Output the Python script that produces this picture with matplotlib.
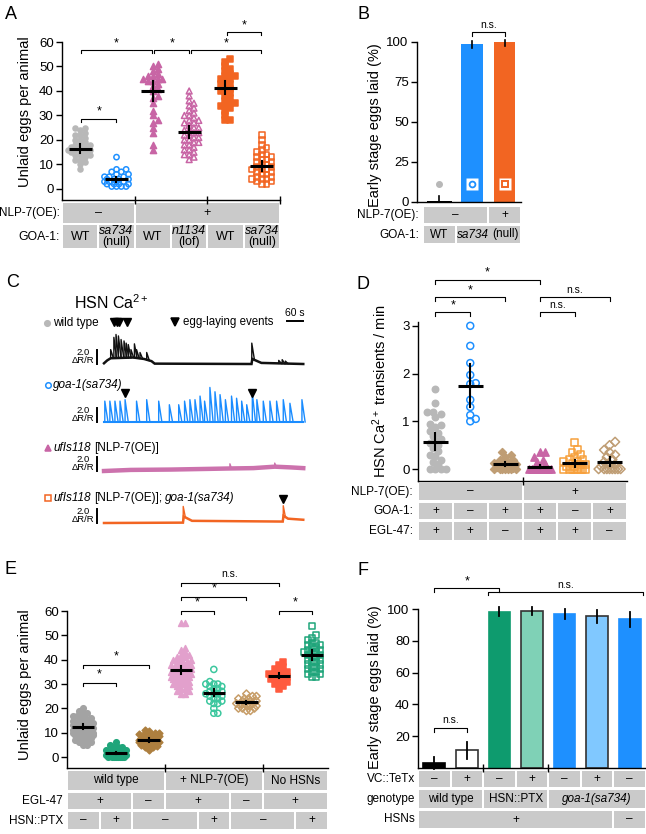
import matplotlib
matplotlib.use('Agg')
import matplotlib.pyplot as plt
import numpy as np
from matplotlib.patches import Rectangle
from matplotlib.lines import Line2D

# ---------------- A: unlaid eggs per animal ----------------
A_wt = [25, 25, 24, 23, 22, 22, 21, 20, 20, 19, 18, 18, 18, 17, 17, 16, 16, 16, 16,
        15, 15, 14, 14, 14, 13, 12, 12, 11, 10, 8]
A_goa = [13, 8, 8, 7, 7, 6, 6, 5, 5, 5, 4, 4, 4, 4, 3, 3, 3, 3, 2, 2, 2, 2, 1, 1, 1, 1]
A_nlp = [51, 50, 49, 48, 47, 46, 46, 45, 45, 45, 44, 44, 43, 42, 41, 40, 38, 37, 35,
         32, 30, 28, 27, 25, 23, 18, 16]
A_nlp_lof = [40, 38, 36, 35, 34, 33, 32, 31, 30, 30, 29, 28, 28, 27, 27, 26, 25, 25, 24,
             24, 23, 23, 22, 22, 21, 21, 20, 20, 19, 19, 18, 18, 17, 16, 16, 15, 14, 14, 13, 12]
A_nlp_wt = [53, 52, 50, 49, 48, 47, 46, 46, 45, 45, 44, 43, 43, 42, 41, 40, 40, 39, 38,
            37, 36, 35, 35, 34, 34, 33, 32, 30, 28, 28]
A_nlp_goa = [22, 20, 18, 17, 16, 15, 14, 14, 13, 13, 12, 12, 11, 11, 10, 10, 9, 9, 8, 8,
             8, 7, 7, 6, 6, 5, 5, 4, 4, 4, 3, 3, 2, 2]
A_mean = [16.5, 4.0, 39.8, 23.3, 41.4, 9.4]
A_lo = [14.8, 3.0, 36.0, 20.8, 38.8, 7.3]
A_hi = [18.2, 5.0, 44.0, 25.8, 44.0, 11.6]
A_nlp7 = ['–', '+']
A_goa1 = ['WT', '_sa734_\n(null)', 'WT', '_n1134_\n(lof)', 'WT', '_sa734_\n(null)']

# ---------------- B: early stage eggs laid (%) ----------------
B_values = [0.6, 98.6, 99.8]
B_lo = [0.0, 96.3, 97.5]
B_hi = [3.5, 100.6, 101.0]
B_nlp7 = ['–', '+']
B_goa1 = ['WT', '_sa734_ (null)']

# ---------------- C: HSN Ca2+ traces (time in s, dR/R) ----------------
C_wt_base_t = [0, 12, 25, 110, 150, 178, 190, 553, 556, 590, 747]
C_wt_base_v = [0.1, 0.5, 0.8, 0.9, 0.7, 0.4, 0.05, 0.0, 0.7, 0.15, 0.0]
C_wt_spike_t = [25, 37, 45, 54, 64, 75, 83, 91, 101, 114, 122, 135, 160, 554, 655, 668, 680]
C_wt_spike_h = [2.0, 3.7, 4.1, 3.9, 3.4, 3.2, 2.9, 2.7, 2.0, 2.8, 2.0, 1.6, 1.6, 2.9, 0.5, 0.6, 0.4]
C_wt_eggs = [39, 47, 57, 87]

C_goa_base_t = [0, 747]
C_goa_base_v = [0.0, 0.0]
C_goa_spike_t = [3, 22, 41, 60, 79, 122, 160, 205, 245, 280, 302, 322, 341, 360, 377, 397,
                 416, 435, 455, 478, 497, 516, 535, 556, 573, 597, 622, 647, 672, 697, 742]
C_goa_spike_h = [2.9, 2.9, 2.9, 2.9, 3.1, 2.9, 3.1, 2.9, 2.4, 2.4, 2.9, 3.1, 3.1, 3.6, 2.9, 4.8,
                 4.2, 3.8, 3.1, 3.6, 3.3, 2.9, 2.4, 4.0, 3.1, 2.9, 2.9, 2.9, 3.1, 2.6, 3.1]
C_goa_eggs = [79, 556]

C_nlp_base_t = [0, 100, 250, 400, 470, 560, 640, 700, 747]
C_nlp_base_v = [0.0, 0.15, 0.2, 0.3, 0.35, 0.4, 0.6, 0.5, 0.4]
C_nlp_spike_t = [472, 640]
C_nlp_spike_h = [1.0, 1.1]

C_nlpgoa_base_t = [0, 296, 299, 330, 670, 673, 690, 747]
C_nlpgoa_base_v = [0.0, 0.05, 0.9, 0.3, 0.2, 1.0, 0.6, 0.45]
C_nlpgoa_spike_t = [297, 672]
C_nlpgoa_spike_h = [2.3, 2.4]
C_nlpgoa_eggs = [672]

# ---------------- D: HSN Ca2+ transients / min ----------------
D_wt = [1.68, 1.38, 1.2, 1.2, 1.15, 1.1, 0.95, 0.92, 0.88, 0.8, 0.75, 0.7, 0.62, 0.6,
        0.55, 0.5, 0.45, 0.38, 0.3, 0.28, 0.2, 0.15, 0.1, 0.0, 0.0, 0.0, 0.0]
D_goa = [3.0, 2.58, 2.22, 1.97, 1.8, 1.78, 1.45, 1.3, 1.13, 1.05, 1.0]
D_egl = [0.35, 0.3, 0.25, 0.2, 0.18, 0.15, 0.12, 0.1, 0.1, 0.08, 0.05, 0.05, 0.03,
         0.0, 0.0, 0.0, 0.0, 0.0, 0.0, 0.0]
D_nlp = [0.35, 0.35, 0.25, 0.2, 0.15, 0.1, 0.05, 0.0, 0.0, 0.0, 0.0, 0.0, 0.0, 0.0,
         0.0, 0.0, 0.0]
D_nlp_goa = [0.55, 0.4, 0.35, 0.3, 0.25, 0.2, 0.2, 0.15, 0.15, 0.12, 0.1, 0.1, 0.05,
             0.05, 0.0, 0.0, 0.0, 0.0, 0.0, 0.0, 0.0, 0.0]
D_nlp_egl = [0.57, 0.5, 0.4, 0.35, 0.3, 0.25, 0.2, 0.15, 0.1, 0.1, 0.05, 0.0, 0.0,
             0.0, 0.0, 0.0, 0.0, 0.0, 0.0]
D_mean = [0.57, 1.75, 0.1, 0.05, 0.12, 0.15]
D_lo = [0.4, 1.3, 0.06, 0.02, 0.05, 0.07]
D_hi = [0.75, 2.2, 0.14, 0.09, 0.2, 0.25]
D_nlp7 = ['–', '+']
D_goa1 = ['+', '–', '+', '+', '–', '+']
D_egl47 = ['+', '+', '–', '+', '+', '–']

# ---------------- E: unlaid eggs per animal ----------------
E_wt = [20, 19, 18, 18, 17, 17, 16, 16, 16, 15, 15, 15, 15, 14, 14, 14, 14, 14, 13, 13,
        13, 13, 13, 12, 12, 12, 12, 12, 12, 11, 11, 11, 11, 11, 10, 10, 10, 10, 10, 9, 9,
        9, 9, 8, 8, 8, 7, 7, 7, 6, 6, 5, 5]
E_ptx = [6, 5, 4, 4, 4, 3, 3, 3, 3, 3, 2, 2, 2, 2, 2, 2, 2, 2, 2, 1, 1, 1, 1, 1, 1, 1,
         1, 1, 1, 1, 0, 0, 0, 0, 0, 0, 0, 0]
E_egl = [11, 10.5, 10, 10, 9.5, 9, 9, 9, 8.5, 8, 8, 8, 7.5, 7, 7, 7, 7, 6.5, 6, 6, 6, 6,
         5.5, 5, 5, 5, 4.5, 4, 4, 3]
E_nlp = [55, 55, 45, 44, 43, 42, 42, 41, 41, 40, 40, 40, 39, 39, 39, 38, 38, 38, 38, 37,
         37, 37, 37, 36, 36, 36, 36, 36, 35, 35, 35, 35, 35, 34, 34, 34, 34, 33, 33, 33,
         33, 32, 32, 32, 31, 31, 31, 30, 30, 30, 29, 29, 28, 28, 27, 27, 26, 26]
E_nlp_ptx = [36, 31, 30, 30, 30, 29, 29, 28, 28, 27, 27, 26, 26, 26, 25, 25, 24, 24, 23,
             23, 22, 22, 20, 18, 18]
E_nlp_egl = [26, 25, 25, 24, 24, 24, 23, 23, 23, 23, 22, 22, 22, 22, 22, 21, 21, 21, 21,
             20, 20, 20, 19, 19]
E_nohsn = [39, 38, 37, 36, 36, 35, 35, 34, 34, 34, 33, 33, 33, 33, 32, 32, 32, 31, 31,
           30, 30, 29, 28]
E_nohsn_ptx = [54, 50, 49, 48, 47, 47, 46, 46, 45, 45, 44, 44, 43, 43, 43, 42, 42, 41, 41,
               40, 40, 39, 39, 38, 38, 37, 37, 36, 36, 35, 35, 34, 34, 33, 33]
E_mean = [12.5, 1.7, 7.0, 35.7, 26.4, 22.5, 33.4, 42.0]
E_lo = [11.5, 1.2, 6.0, 34.2, 24.9, 21.8, 32.4, 40.0]
E_hi = [13.5, 2.2, 8.0, 37.2, 27.9, 23.2, 34.4, 44.0]
E_strain = ['wild type', '+ NLP-7(OE)', 'No HSNs']
E_egl47 = ['+', '–', '+', '–', '+']
E_ptxrow = ['–', '+', '–', '+', '–', '+']

# ---------------- F: early stage eggs laid (%) ----------------
F_values = [3.0, 11.2, 98.4, 98.8, 96.8, 95.3, 93.6]
F_err = [3.8, 5.3, 2.7, 2.7, 3.4, 4.2, 4.8]
F_tetx = ['–', '+', '–', '+', '–', '+', '–']
F_genotype = ['wild type', 'HSN::PTX', '_goa-1(sa734)_']
F_hsns = ['+', '–']

# ---------------- layout / style ----------------
W, H = 646, 834
plt.rcParams['font.family'] = ['Liberation Sans', 'DejaVu Sans']
plt.rcParams['mathtext.fontset'] = 'custom'
plt.rcParams['mathtext.rm'] = 'Liberation Sans'
plt.rcParams['mathtext.it'] = 'Liberation Sans:italic'
plt.rcParams['axes.linewidth'] = 1.0
fig = plt.figure(figsize=(W / 100, H / 100), dpi=100)
R = fig.canvas.get_renderer()

CELL = '#cacaca'
GRAY = '#b8b8b8'
BLUE = '#1e90ff'
PINK = '#c865a5'
ORANGE = '#f26522'
TAN = '#bf9d74'
LORANGE = '#f7a03c'
EGRAY = '#a3a3a3'
GREEN = '#1fa57a'
BROWN = '#ad7f3f'
LPINK = '#e2a0cc'
LGREEN = '#3cc79e'
LTAN = '#c79d68'
RED = '#ff5b3e'
FGREEN = '#0e9b6e'
FLGREEN = '#7fd1b6'
FLBLUE = '#80c8ff'


def fx(x):
    return x / W


def fy(y):
    return 1 - y / H


def add_ax(x0, y0, x1, y1):
    ax = fig.add_axes([fx(x0), fy(y1), (x1 - x0) / W, (y1 - y0) / H])
    ax.patch.set_visible(False)
    for s in ['top', 'right']:
        ax.spines[s].set_visible(False)
    ax.tick_params(labelsize=9.5, width=1, length=4, pad=2)
    return ax


def rich(x, y, s, size, ha='left'):
    # text with _italic_ segments, placed in figure pixels
    items = []
    sp = 0.278 * size * 100 / 72
    for k, seg in enumerate(s.split('_')):
        if not seg:
            continue
        lead = len(seg) - len(seg.lstrip(' '))
        trail = len(seg) - len(seg.rstrip(' '))
        seg = seg.strip(' ')
        if lead:
            items.append((None, lead * sp))
        if seg:
            t = fig.text(0, fy(y), seg, fontsize=size, va='center',
                         style='italic' if k % 2 else 'normal')
            items.append((t, t.get_window_extent(R).width))
        if trail:
            items.append((None, trail * sp))
    total = sum(w for _, w in items)
    x0 = {'left': x, 'center': x - total / 2, 'right': x - total}[ha]
    for t, w in items:
        if t is not None:
            t.set_x(fx(x0))
        x0 += w


def row(ax, y0, y1, spans, size=8.5):
    for a, b, lab in spans:
        xa = ax.transData.transform((a, 0))[0]
        xb = ax.transData.transform((b, 0))[0]
        fig.add_artist(Rectangle((fx(xa + 1), fy(y1)), (xb - xa - 2) / W, (y1 - y0) / H,
                                 transform=fig.transFigure, fc=CELL, ec='none', zorder=0))
        lines = lab.split('\n')
        for k, ln in enumerate(lines):
            yc = (y0 + y1) / 2 + (k - (len(lines) - 1) / 2) * 10.5
            rich((xa + xb) / 2, yc, ln, size, 'center')


def per_group(labels):
    return [(i - 0.5, i + 0.5, lab) for i, lab in enumerate(labels)]


def swarm(ax, x, vals, marker, color, filled, ms, d, maxw):
    # beeswarm offsets (px), capped at maxw; crowded points overlap
    sx = ax.transData.transform((1, 0))[0] - ax.transData.transform((0, 0))[0]
    sy = ax.transData.transform((0, 1))[1] - ax.transData.transform((0, 0))[1]
    vals = np.asarray(vals, float)
    offs = np.zeros(len(vals))
    placed = []
    steps = [0] + [s * k * d * 0.5 for k in range(1, 60) for s in (1, -1)]
    steps = [c for c in steps if abs(c) <= maxw]
    for i in np.argsort(vals):
        y = vals[i] * sy
        best, bestd = 0, -1
        for c in steps:
            md = min([(c - px) ** 2 + (y - py) ** 2 for px, py in placed] or [1e9])
            if md >= d * d:
                best = c
                break
            if md > bestd:
                bestd, best = md, c
        placed.append((best, y))
        offs[i] = best / sx
    ax.scatter(x + offs, vals, marker=marker, s=ms ** 2,
               facecolors=color if filled else 'none', edgecolors=color,
               linewidths=1.1, zorder=3, clip_on=False)


def meanbar(ax, x, m, lo, hi, hw=0.32):
    ax.plot([x - hw, x + hw], [m, m], color='k', lw=2.2, zorder=5, solid_capstyle='butt')
    ax.plot([x, x], [lo, hi], color='k', lw=1.5, zorder=5)


def bracket(ax, x0, x1, y, drop, label, ly, size=9):
    ax.plot([x0, x0, x1, x1], [y - drop, y, y, y - drop], color='k', lw=0.8, clip_on=False)
    ax.text((x0 + x1) / 2, ly, label, ha='center', va='center', fontsize=size, clip_on=False)


def ylab(x, y, s, size=10.5):
    fig.text(fx(x), fy(y), s, rotation=90, ha='center', va='center', fontsize=size)


def letter(x, y, s):
    fig.text(fx(x), fy(y), s, ha='left', va='top', fontsize=13)


def fig_marker(x, y, m, color, filled, ms):
    fig.add_artist(Line2D([fx(x)], [fy(y)], transform=fig.transFigure, marker=m, ms=ms,
                          mfc=color if filled else 'none', mec=color, mew=1.1, ls='none'))


# ================= A =================
axA = add_ax(62, 42, 280, 200)
axA.set_xlim(-0.5, 5.5)
axA.set_ylim(-4.5, 60)
axA.set_yticks(np.arange(0, 61, 10))
axA.set_xticks([1.5, 3.5, 5.5])
axA.set_xticklabels([])
axA.tick_params(axis='x', direction='inout', length=6)
A_sets = [A_wt, A_goa, A_nlp, A_nlp_lof, A_nlp_wt, A_nlp_goa]
A_style = [('o', GRAY, True, 3.6), ('o', BLUE, False, 3.8), ('^', PINK, True, 4.4),
           ('^', PINK, False, 4.2), ('s', ORANGE, True, 3.8), ('s', ORANGE, False, 4.0)]
for i, (vals, st) in enumerate(zip(A_sets, A_style)):
    swarm(axA, i, vals, *st, d=4.8, maxw=14)
    meanbar(axA, i, A_mean[i], A_lo[i], A_hi[i])
bracket(axA, 0.03, 1.0, 28.6, 1.2, '*', 31.5)
bracket(axA, 0.03, 1.97, 56.7, 1.2, '*', 59.6)
bracket(axA, 2.04, 3.0, 56.7, 1.2, '*', 59.6)
bracket(axA, 3.04, 4.97, 56.7, 1.2, '*', 59.6)
bracket(axA, 4.04, 4.97, 64.0, 1.2, '*', 66.6)
ylab(25, 112, 'Unlaid eggs per animal')
row(axA, 203, 223, [(-0.5, 1.5, A_nlp7[0]), (1.5, 5.5, A_nlp7[1])], 9)
row(axA, 225, 248, per_group(A_goa1), 9)
rich(60, 213, 'NLP-7(OE):', 8.4, 'right')
rich(60, 236.5, 'GOA-1:', 8.8, 'right')
letter(5, 6, 'A')

# ================= B =================
axB = add_ax(417, 42, 521, 202)
axB.set_xlim(-0.68, 2.5)
axB.set_ylim(0, 100)
axB.set_yticks([0, 25, 50, 75, 100])
axB.set_xticks([])
axB.bar(range(3), B_values, width=[0.75, 0.65, 0.65], color=['k', BLUE, ORANGE])
for i in range(3):
    axB.plot([i, i], [B_lo[i], B_hi[i]], color='k', lw=1.2, clip_on=False)
axB.plot(0, 11.5, 'o', ms=4, color=GRAY)
axB.plot([1, 2], [11.5, 11.5], 's', ms=8, mfc='white', mec='none', ls='none')
axB.plot(1, 11.5, 'o', ms=4.2, mfc='none', mec=BLUE, mew=1.3)
axB.plot(2, 11.5, 's', ms=4.6, mfc='none', mec=ORANGE, mew=1.4)
bracket(axB, 1, 2, 106.2, 2.5, 'n.s.', 110.5, 7.5)
ylab(375, 125, 'Early stage eggs laid (%)')
row(axB, 207, 223, [(-0.5, 1.5, B_nlp7[0]), (1.5, 2.5, B_nlp7[1])])
row(axB, 226, 243, [(-0.5, 0.5, B_goa1[0]), (0.5, 2.5, B_goa1[1])])
rich(419, 215, 'NLP-7(OE):', 8.5, 'right')
rich(419, 234.5, 'GOA-1:', 8.5, 'right')
letter(357, 6, 'B')

# ================= C =================
PXS = 199 / 746.0   # px per second
PXU = 7.2           # px per dR/R unit
axC = add_ax(95, 290, 310, 535)
axC.axis('off')
axC.set_xlim((95 - 104) / PXS, (310 - 104) / PXS)
axC.set_ylim(0, 245 / PXU)


def cy(py):
    return (535 - py) / PXU


def trace(off, bt, bv, st, sh, color, lw, decay):
    axC.plot(bt, np.add(bv, off), color=color, lw=lw, solid_joinstyle='miter')
    for t, h in zip(st, sh):
        b0 = np.interp(t, bt, bv)
        b1 = np.interp(t + decay, bt, bv)
        axC.plot([t, t, t + decay], [b0 + off, h + off, b1 + off], color=color, lw=1.0)


def scalebar(off):
    axC.plot([-26, -26], [off, off + 2], color='k', lw=1.4, clip_on=False)
    axC.text(-77, off + 1.55, '2.0', ha='center', va='center', fontsize=6.8)
    axC.text(-77, off + 0.45, 'ΔR/R', ha='center', va='center', fontsize=6.8)


offs_C = [cy(364), cy(422), cy(471), cy(523)]
trace(offs_C[0], C_wt_base_t, C_wt_base_v, C_wt_spike_t, C_wt_spike_h, '#111111', 1.8, 10)
trace(offs_C[1], C_goa_base_t, C_goa_base_v, C_goa_spike_t, C_goa_spike_h, '#1a8cff', 1.5, 12)
trace(offs_C[2], C_nlp_base_t, C_nlp_base_v, C_nlp_spike_t, C_nlp_spike_h, '#cc72ad', 3.2, 6)
trace(offs_C[3], C_nlpgoa_base_t, C_nlpgoa_base_v, C_nlpgoa_spike_t, C_nlpgoa_spike_h,
      '#f26522', 1.8, 8)
for o in offs_C:
    scalebar(o)
axC.plot(C_wt_eggs, [cy(322)] * len(C_wt_eggs), 'v', color='k', ms=5.5, clip_on=False)
axC.plot(C_goa_eggs, [cy(393)] * len(C_goa_eggs), 'v', color='k', ms=5.5, clip_on=False)
axC.plot(C_nlpgoa_eggs, [cy(499)] * len(C_nlpgoa_eggs), 'v', color='k', ms=5.5, clip_on=False)
axC.plot([686, 746], [cy(321), cy(321)], color='k', lw=1.4)
axC.text(716, cy(313), '60 s', ha='center', va='center', fontsize=7.5)
fig.text(fx(74), fy(303), 'HSN Ca$^{2+}$', ha='left', va='center', fontsize=11.5)
fig_marker(175, 322, 'v', 'k', True, 5.5)
rich(183, 322, 'egg-laying events', 8.3)
fig_marker(47, 323, 'o', GRAY, True, 4)
rich(53, 323, 'wild type', 8.5)
fig_marker(48, 385, 'o', BLUE, False, 4)
rich(53, 385, '_goa-1(sa734)_', 8.5)
fig_marker(48, 448, '^', PINK, True, 4)
rich(53, 448, '_ufIs118_ [NLP-7(OE)]', 8.5)
fig_marker(48, 498, 's', ORANGE, False, 4)
rich(53, 498, '_ufIs118_ [NLP-7(OE)]; _goa-1(sa734)_', 8.5)
letter(6, 274, 'C')

# ================= D =================
axD = add_ax(418, 322, 627, 481)
axD.set_xlim(-0.5, 5.5)
axD.set_ylim(-0.25, 3.08)
axD.set_yticks([0, 1, 2, 3])
axD.set_xticks([2.5])
axD.set_xticklabels([])
axD.tick_params(axis='x', direction='inout', length=6)
D_sets = [D_wt, D_goa, D_egl, D_nlp, D_nlp_goa, D_nlp_egl]
D_style = [('o', GRAY, True, 4.6), ('o', BLUE, False, 5.0), ('D', TAN, True, 4.0),
           ('^', PINK, True, 5.2), ('s', LORANGE, False, 5.0), ('D', TAN, False, 4.6)]
for i, (vals, st) in enumerate(zip(D_sets, D_style)):
    swarm(axD, i, vals, *st, d=5.5, maxw=11)
    meanbar(axD, i, D_mean[i], D_lo[i], D_hi[i], hw=0.36)
bracket(axD, 0, 1, 3.29, 0.08, '*', 3.42)
bracket(axD, 0, 2, 3.60, 0.08, '*', 3.74)
bracket(axD, 0, 3, 3.96, 0.08, '*', 4.11)
bracket(axD, 3, 4, 3.29, 0.08, 'n.s.', 3.43, 7.5)
bracket(axD, 3, 5, 3.60, 0.08, 'n.s.', 3.74, 7.5)
ylab(380, 391, 'HSN Ca$^{2+}$ transients / min')
row(axD, 483, 500, [(-0.5, 2.5, D_nlp7[0]), (2.5, 5.5, D_nlp7[1])])
row(axD, 503, 519, per_group(D_goa1))
row(axD, 522, 540, per_group(D_egl47))
rich(413, 491.5, 'NLP-7(OE):', 8.5, 'right')
rich(413, 511, 'GOA-1:', 8.5, 'right')
rich(413, 531, 'EGL-47:', 8.5, 'right')
letter(356, 276, 'D')

# ================= E =================
axE = add_ax(67, 611, 328, 768)
axE.set_xlim(-0.5, 7.5)
axE.set_ylim(-4.5, 60)
axE.set_yticks(np.arange(0, 61, 10))
axE.set_xticks([2.5, 5.5])
axE.set_xticklabels([])
axE.tick_params(axis='x', direction='inout', length=6)
E_sets = [E_wt, E_ptx, E_egl, E_nlp, E_nlp_ptx, E_nlp_egl, E_nohsn, E_nohsn_ptx]
E_style = [('o', EGRAY, True, 4.0), ('o', GREEN, True, 4.0), ('D', BROWN, True, 3.4),
           ('^', LPINK, True, 4.2), ('o', LGREEN, False, 4.4), ('D', LTAN, False, 3.8),
           ('s', RED, True, 4.0), ('s', GREEN, False, 4.4)]
for i, (vals, st) in enumerate(zip(E_sets, E_style)):
    swarm(axE, i, vals, *st, d=4.0, maxw=11)
    meanbar(axE, i, E_mean[i], E_lo[i], E_hi[i], hw=0.34)
bracket(axE, 0, 1, 30.4, 1.2, '*', 34.0)
bracket(axE, 0, 2, 37.8, 1.2, '*', 41.3)
bracket(axE, 3, 4, 60.0, 1.2, '*', 63.4)
bracket(axE, 3, 5, 65.9, 1.2, '*', 69.2)
bracket(axE, 3, 6, 71.6, 1.2, 'n.s.', 75.0, 7.5)
bracket(axE, 6, 7, 60.0, 1.2, '*', 63.4)
ylab(25, 685, 'Unlaid eggs per animal')
row(axE, 771, 790, [(-0.5, 2.5, E_strain[0]), (2.5, 5.5, E_strain[1]), (5.5, 7.5, E_strain[2])])
row(axE, 793, 809, [(-0.5, 1.5, E_egl47[0]), (1.5, 2.5, E_egl47[1]), (2.5, 4.5, E_egl47[2]),
                    (4.5, 5.5, E_egl47[3]), (5.5, 7.5, E_egl47[4])])
row(axE, 812, 829, [(-0.5, 0.5, E_ptxrow[0]), (0.5, 1.5, E_ptxrow[1]), (1.5, 3.5, E_ptxrow[2]),
                    (3.5, 4.5, E_ptxrow[3]), (4.5, 6.5, E_ptxrow[4]), (6.5, 7.5, E_ptxrow[5])])
rich(63, 801, 'EGL-47', 8.5, 'right')
rich(63, 820.5, 'HSN::PTX', 8.5, 'right')
letter(5, 561, 'E')

# ================= F =================
axF = add_ax(418, 609, 646, 768)
axF.set_xlim(-0.5, 6.5)
axF.set_ylim(0, 100)
axF.set_yticks([20, 40, 60, 80, 100])
axF.set_xticks([1.5, 3.5])
axF.set_xticklabels([])
axF.tick_params(axis='x', direction='inout', length=6)
F_fc = ['k', 'white', FGREEN, FLGREEN, BLUE, FLBLUE, BLUE]
F_ec = ['k', '#333333', FGREEN, '#333333', BLUE, '#333333', BLUE]
axF.bar(range(7), F_values, width=0.67, color=F_fc, edgecolor=F_ec, linewidth=1.2)
for i in range(7):
    axF.plot([i, i], [F_values[i] - F_err[i], F_values[i] + F_err[i]], color='k', lw=1.3,
             clip_on=False)
bracket(axF, 0, 1, 25.4, 2.5, 'n.s.', 30.0, 7.5)
axF.plot([0, 0, 2, 2], [110.6, 113.2, 113.2, 110.8], color='k', lw=0.8, clip_on=False)
axF.text(1, 117.6, '*', ha='center', va='center', fontsize=9)
bracket(axF, 1.65, 6.4, 110.8, 2.1, 'n.s.', 115.2, 7.5)
ylab(375, 687, 'Early stage eggs laid (%)')
row(axF, 771, 787, per_group(F_tetx))
row(axF, 790, 808, [(-0.5, 1.5, F_genotype[0]), (1.5, 3.5, F_genotype[1]),
                    (3.5, 6.5, F_genotype[2])])
row(axF, 811, 828, [(-0.5, 5.5, F_hsns[0]), (5.5, 6.5, F_hsns[1])])
rich(415, 779, 'VC::TeTx', 8.5, 'right')
rich(415, 799, 'genotype', 8.5, 'right')
rich(415, 819.5, 'HSNs', 8.5, 'right')
letter(357, 562, 'F')

fig.savefig('out.png', dpi=100)
